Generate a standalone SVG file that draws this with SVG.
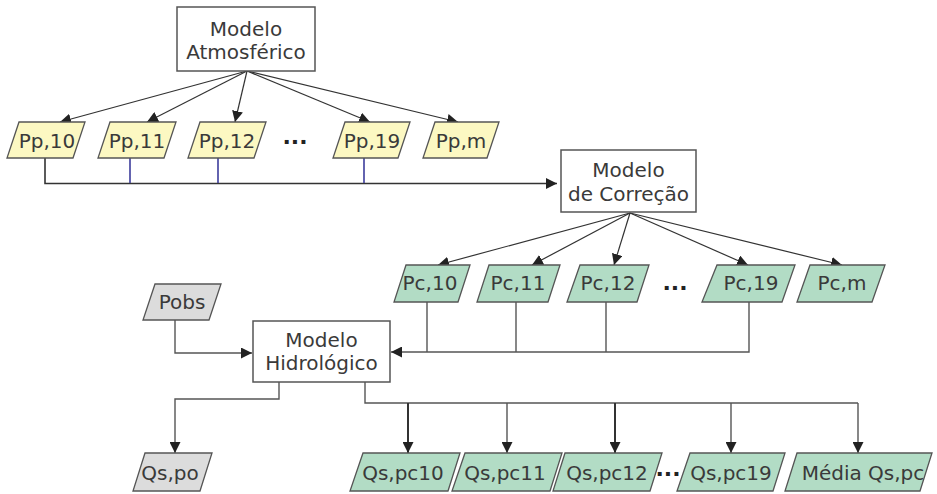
<svg xmlns="http://www.w3.org/2000/svg" width="937" height="494" viewBox="0 0 937 494">
<defs>
<style>
text{font-family:"DejaVu Sans","Noto Sans",sans-serif;font-size:20px;fill:#3a3a3a;text-anchor:middle}
.box{fill:#fff;stroke:#555;stroke-width:1.5}
.pp{fill:#fcf8c2;stroke:#555;stroke-width:1.3}
.pc{fill:#b2dcc5;stroke:#555;stroke-width:1.3}
.gr{fill:#dcdcdc;stroke:#555;stroke-width:1.3}
.dots{font-weight:bold;font-size:22px;fill:#222}
.ln{fill:none;stroke:#333;stroke-width:1.2}
.bus{fill:none;stroke:#333;stroke-width:1.6}
.blue{fill:none;stroke:#3d3d9c;stroke-width:1.6}
.gl{fill:none;stroke:#555;stroke-width:1.4}
.dk{fill:none;stroke:#333;stroke-width:2}
</style>
<marker id="ah" viewBox="0 0 10 10" refX="10" refY="5" markerWidth="11" markerHeight="11" markerUnits="userSpaceOnUse" orient="auto">
<path d="M0,0 L10,5 L0,10 z" fill="#222"/>
</marker>
</defs>
<rect width="937" height="494" fill="#fff"/>

<g id="connectors">
<line class="ln" x1="247" y1="71" x2="60" y2="122" marker-end="url(#ah)"/>
<line class="ln" x1="247" y1="71" x2="147" y2="122" marker-end="url(#ah)"/>
<line class="ln" x1="247" y1="71" x2="235" y2="122" marker-end="url(#ah)"/>
<line class="ln" x1="247" y1="71" x2="370" y2="122" marker-end="url(#ah)"/>
<line class="ln" x1="247" y1="71" x2="458" y2="122" marker-end="url(#ah)"/>
<path class="bus" d="M45,158 V183.5 H557" marker-end="url(#ah)"/>
<line class="blue" x1="130" y1="158" x2="130" y2="183"/>
<line class="blue" x1="218" y1="158" x2="218" y2="183"/>
<line class="blue" x1="364" y1="158" x2="364" y2="183"/>
<line class="ln" x1="630" y1="213" x2="438" y2="265" marker-end="url(#ah)"/>
<line class="ln" x1="630" y1="213" x2="532" y2="265" marker-end="url(#ah)"/>
<line class="ln" x1="630" y1="213" x2="614" y2="265" marker-end="url(#ah)"/>
<line class="ln" x1="630" y1="213" x2="748" y2="265" marker-end="url(#ah)"/>
<line class="ln" x1="630" y1="213" x2="842" y2="265" marker-end="url(#ah)"/>
<line class="gl" x1="427" y1="302" x2="427" y2="352"/>
<line class="gl" x1="516" y1="302" x2="516" y2="352"/>
<line class="gl" x1="606" y1="302" x2="606" y2="352"/>
<path class="gl" d="M749,302 V352 H391" marker-end="url(#ah)"/>
<path class="gl" d="M175,320 V353 H252" marker-end="url(#ah)"/>
<path class="gl" d="M279,382 V399 H175 V453" marker-end="url(#ah)"/>
<path class="gl" d="M365,382 V403 H858"/>
<line class="dk" x1="408" y1="403" x2="408" y2="453" marker-end="url(#ah)"/>
<line class="gl" x1="507" y1="403" x2="507" y2="453" marker-end="url(#ah)"/>
<line class="dk" x1="615" y1="403" x2="615" y2="453" marker-end="url(#ah)"/>
<line class="gl" x1="731" y1="403" x2="731" y2="453" marker-end="url(#ah)"/>
<line class="gl" x1="858" y1="403" x2="858" y2="453" marker-end="url(#ah)"/>
</g>

<g id="modelo-atmosferico">
<rect class="box" x="177" y="7" width="138" height="64"/>
<text x="246" y="36">Modelo</text>
<text x="246" y="59">Atmosférico</text>
</g>

<g id="pp10"><polygon class="pp" points="19,122 85,122 73,158 7,158"/><text x="47" y="148">Pp,10</text></g>
<g id="pp11"><polygon class="pp" points="110,122 176,122 164,158 98,158"/><text x="137" y="148">Pp,11</text></g>
<g id="pp12"><polygon class="pp" points="200,122 266,122 254,158 188,158"/><text x="227" y="148">Pp,12</text></g>
<g id="pp-dots"><text class="dots" x="295" y="144">...</text></g>
<g id="pp19"><polygon class="pp" points="345,122 410,122 398,158 333,158"/><text x="372" y="148">Pp,19</text></g>
<g id="ppm"><polygon class="pp" points="435,122 499,122 487,158 423,158"/><text x="461" y="148">Pp,m</text></g>

<g id="modelo-correcao">
<rect class="box" x="561" y="150" width="135" height="62"/>
<text x="628.5" y="177">Modelo</text>
<text x="628.5" y="201">de Correção</text>
</g>

<g id="pc10"><polygon class="pc" points="406,265 470,265 458,302 394,302"/><text x="430" y="290">Pc,10</text></g>
<g id="pc11"><polygon class="pc" points="489,265 560,265 548,302 477,302"/><text x="518" y="290">Pc,11</text></g>
<g id="pc12"><polygon class="pc" points="580,265 649,265 637,302 567,302"/><text x="608" y="290">Pc,12</text></g>
<g id="pc-dots"><text class="dots" x="675" y="290">...</text></g>
<g id="pc19"><polygon class="pc" points="717,265 795,265 782,302 702,302"/><text x="751" y="290">Pc,19</text></g>
<g id="pcm"><polygon class="pc" points="810,265 885,265 872,302 797,302"/><text x="842" y="290">Pc,m</text></g>

<g id="pobs"><polygon class="gr" points="155,284 221,284 209,320 143,320"/><text x="182" y="309">Pobs</text></g>

<g id="modelo-hidrologico">
<rect class="box" x="253" y="321" width="137" height="61"/>
<text x="321.5" y="347">Modelo</text>
<text x="321.5" y="370">Hidrológico</text>
</g>

<g id="qspo"><polygon class="gr" points="145,453 212,453 200,491 133,491"/><text x="170" y="480">Qs,po</text></g>
<g id="qspc10"><polygon class="pc" points="363,453 460,453 448,491 350,491"/><text x="403" y="480">Qs,pc10</text></g>
<g id="qspc11"><polygon class="pc" points="465,453 562,453 550,491 452,491"/><text x="505" y="480">Qs,pc11</text></g>
<g id="qspc12"><polygon class="pc" points="565,453 662,453 650,491 553,491"/><text x="607" y="480">Qs,pc12</text></g>
<g id="qs-dots"><text class="dots" x="668" y="476">...</text></g>
<g id="qspc19"><polygon class="pc" points="690,453 785,453 773,491 677,491"/><text x="731" y="480">Qs,pc19</text></g>
<g id="media-qspc"><polygon class="pc" points="797,453 932,453 920,491 785,491"/><text x="863" y="480">Média Qs,pc</text></g>
</svg>
